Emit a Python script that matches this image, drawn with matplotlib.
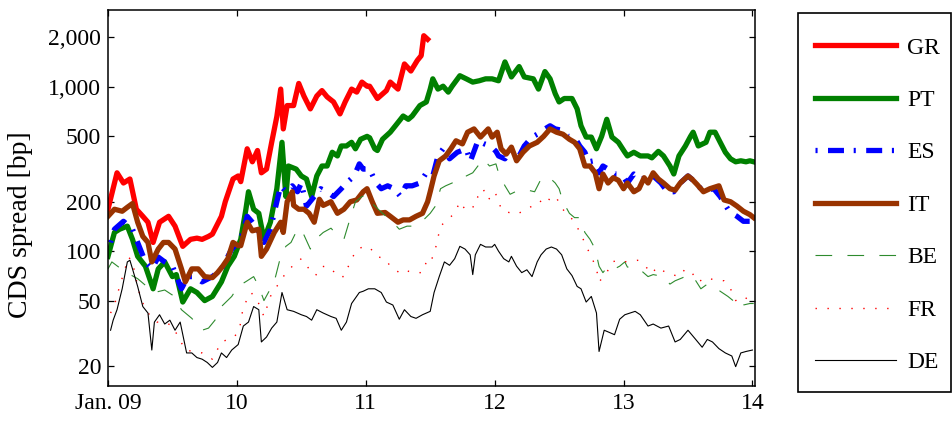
import matplotlib
matplotlib.use("Agg")
import matplotlib.pyplot as plt
from matplotlib.patches import Rectangle
from matplotlib.ticker import FixedLocator, FuncFormatter, NullLocator
import numpy as np

plt.rcParams['font.family'] = ['Liberation Serif', 'DejaVu Serif']
plt.rcParams['lines.scale_dashes'] = False

# 5y sovereign CDS spreads [bp], time in years since Jan 2009
gr_t = [0.00, 0.07, 0.12, 0.17, 0.22, 0.27, 0.31, 0.35, 0.40, 0.47, 0.52, 0.58, 0.64, 0.69, 0.73,
        0.78, 0.81, 0.88, 0.91, 0.97, 1.01, 1.03, 1.08, 1.12, 1.16, 1.19, 1.23, 1.27, 1.31, 1.34,
        1.36, 1.39, 1.44, 1.48, 1.52, 1.57, 1.62, 1.66, 1.70, 1.75, 1.80, 1.84, 1.89, 1.93, 1.97,
        2.01, 2.03, 2.09, 2.16, 2.19, 2.25, 2.30, 2.35, 2.40, 2.43, 2.45, 2.48]
gr_bp = [180, 300, 260, 275, 180, 163, 150, 113, 150, 163, 142, 107, 118, 120, 118,
         123, 127, 163, 200, 275, 287, 265, 420, 350, 410, 300, 316, 460, 660, 970,
         555, 770, 770, 1050, 880, 735, 880, 950, 870, 810, 685, 810, 970, 930, 1070,
         1010, 1010, 850, 950, 1070, 970, 1380, 1250, 1450, 1550, 2050, 1950]

pt_t = [0.00, 0.05, 0.09, 0.15, 0.19, 0.23, 0.29, 0.35, 0.39, 0.44,
        0.50, 0.53, 0.58, 0.64, 0.69, 0.75, 0.81, 0.88, 0.93, 0.98,
        1.03, 1.07, 1.09, 1.13, 1.17, 1.21, 1.26, 1.31, 1.35, 1.38,
        1.40, 1.46, 1.50, 1.54, 1.58, 1.62, 1.66, 1.70, 1.74, 1.78,
        1.81, 1.85, 1.89, 1.92, 1.96, 2.01, 2.03, 2.07, 2.09, 2.13,
        2.19, 2.23, 2.29, 2.33, 2.36, 2.42, 2.47, 2.50, 2.52, 2.56,
        2.60, 2.64, 2.67, 2.73, 2.78, 2.83, 2.88, 2.93, 2.98, 3.03,
        3.08, 3.13, 3.19, 3.23, 3.30, 3.34, 3.39, 3.43, 3.47, 3.50,
        3.54, 3.60, 3.64, 3.67, 3.71, 3.75, 3.79, 3.83, 3.87, 3.91,
        3.96, 4.01, 4.03, 4.08, 4.13, 4.19, 4.22, 4.27, 4.31, 4.36,
        4.39, 4.43, 4.48, 4.52, 4.54, 4.58, 4.64, 4.67, 4.71, 4.75,
        4.79, 4.83, 4.87, 4.91, 4.95, 4.98, 5.01]
pt_bp = [93, 130, 136, 142, 118, 93, 81, 59, 78, 86,
         70, 72, 49, 59, 56, 50, 53, 65, 81, 93,
         118, 180, 230, 180, 170, 118, 150, 240, 460, 215,
         330, 316, 287, 275, 215, 287, 330, 330, 400, 380,
         437, 437, 460, 420, 480, 500, 490, 420, 410, 480,
         530, 580, 665, 635, 665, 770, 810, 970, 1120, 970,
         1010, 930, 1010, 1170, 1120, 1070, 1090, 1120, 1120, 1090,
         1420, 1150, 1330, 1150, 1120, 970, 1240, 1120, 910, 810,
         850, 850, 735, 580, 495, 495, 420, 500, 635, 495,
         460, 400, 380, 400, 380, 380, 370, 405, 380, 330,
         295, 380, 437, 500, 530, 437, 460, 530, 530, 460,
         400, 365, 350, 355, 350, 355, 350]

es_t = [0.02, 0.05, 0.12, 0.19, 0.23, 0.29, 0.34, 0.39, 0.44, 0.50,
        0.57, 0.62, 0.67, 0.73, 0.81, 0.88, 0.96, 1.01, 1.03, 1.08,
        1.12, 1.16, 1.21, 1.26, 1.31, 1.34, 1.38, 1.43, 1.47, 1.50,
        1.54, 1.60, 1.65, 1.70, 1.75, 1.81, 1.85, 1.91, 1.95, 1.98,
        2.03, 2.08, 2.12, 2.17, 2.22, 2.27, 2.31, 2.36, 2.42, 2.47,
        2.52, 2.56, 2.60, 2.65, 2.71, 2.78, 2.81, 2.87, 2.92, 2.97,
        3.01, 3.03, 3.08, 3.13, 3.19, 3.23, 3.29, 3.34, 3.39, 3.43,
        3.47, 3.52, 3.57, 3.62, 3.66, 3.70, 3.73, 3.77, 3.81, 3.84,
        3.88, 3.93, 3.97, 4.01, 4.03, 4.08, 4.13, 4.19, 4.23, 4.29,
        4.34, 4.39, 4.44, 4.50, 4.54, 4.60, 4.65, 4.70, 4.75, 4.81,
        4.84, 4.88, 4.93, 4.98, 5.01]
es_bp = [113, 136, 152, 136, 113, 86, 78, 92, 86, 81,
         59, 70, 70, 65, 70, 78, 103, 113, 118, 163,
         150, 136, 113, 136, 200, 250, 230, 250, 230, 260,
         188, 215, 240, 230, 215, 240, 260, 287, 340, 316,
         316, 260, 240, 250, 240, 215, 250, 250, 260, 300,
         287, 380, 420, 365, 400, 420, 350, 470, 450, 437,
         405, 380, 365, 420, 380, 437, 495, 520, 555, 580,
         555, 545, 500, 495, 437, 400, 350, 355, 300, 330,
         316, 295, 295, 275, 260, 295, 275, 280, 287, 260,
         230, 230, 260, 287, 270, 240, 235, 240, 215, 180,
         170, 163, 152, 152, 150]

it_t = [0.00, 0.05, 0.11, 0.15, 0.19, 0.23, 0.27, 0.31, 0.34, 0.39,
        0.43, 0.47, 0.52, 0.57, 0.60, 0.65, 0.70, 0.75, 0.81, 0.85,
        0.89, 0.93, 0.97, 1.01, 1.03, 1.08, 1.12, 1.17, 1.19, 1.23,
        1.29, 1.34, 1.36, 1.39, 1.43, 1.44, 1.48, 1.52, 1.56, 1.60,
        1.64, 1.67, 1.73, 1.78, 1.83, 1.88, 1.93, 1.98, 2.01, 2.05,
        2.09, 2.15, 2.19, 2.25, 2.29, 2.34, 2.39, 2.44, 2.48, 2.50,
        2.53, 2.57, 2.62, 2.66, 2.70, 2.75, 2.79, 2.84, 2.89, 2.95,
        2.98, 3.02, 3.05, 3.09, 3.13, 3.17, 3.22, 3.27, 3.33, 3.38,
        3.43, 3.48, 3.53, 3.58, 3.62, 3.66, 3.70, 3.74, 3.78, 3.81,
        3.84, 3.88, 3.92, 3.96, 4.00, 4.03, 4.08, 4.12, 4.16, 4.19,
        4.23, 4.27, 4.31, 4.36, 4.40, 4.44, 4.50, 4.53, 4.57, 4.62,
        4.67, 4.74, 4.78, 4.83, 4.88, 4.93, 4.98, 5.01]
it_bp = [163, 180, 175, 185, 195, 150, 123, 113, 86, 103,
         113, 113, 103, 78, 65, 78, 78, 70, 69, 74,
         81, 90, 113, 108, 108, 150, 133, 136, 93, 103,
         130, 150, 130, 200, 230, 190, 180, 180, 170, 150,
         207, 190, 200, 170, 180, 200, 205, 230, 240, 200,
         170, 172, 163, 150, 155, 155, 163, 170, 200, 230,
         287, 355, 380, 420, 470, 450, 530, 555, 495, 555,
         495, 530, 420, 390, 430, 355, 400, 437, 460, 500,
         555, 530, 515, 480, 460, 420, 330, 330, 300, 240,
         295, 260, 280, 270, 240, 260, 230, 240, 280, 260,
         300, 275, 260, 240, 235, 260, 287, 275, 255, 230,
         240, 250, 205, 200, 188, 175, 167, 160]

be_t = [0.00, 0.03, 0.13, 0.23, 0.29, 0.36, 0.44, 0.50, 0.57, 0.65,
        0.73, 0.78, 0.83, 0.88, 0.96, 1.01, 1.08, 1.13, 1.17, 1.21,
        1.26, 1.30, 1.34, 1.38, 1.42, 1.47, 1.50, 1.57, 1.61, 1.67,
        1.73, 1.78, 1.83, 1.87, 1.92, 1.97, 2.01, 2.05, 2.13, 2.21,
        2.26, 2.32, 2.36, 2.43, 2.50, 2.54, 2.58, 2.62, 2.67, 2.73,
        2.78, 2.83, 2.87, 2.91, 2.96, 3.01, 3.03, 3.08, 3.12, 3.16,
        3.21, 3.26, 3.31, 3.36, 3.42, 3.47, 3.50, 3.53, 3.58, 3.62,
        3.66, 3.70, 3.74, 3.78, 3.81, 3.84, 3.88, 3.93, 3.97, 4.01,
        4.03, 4.08, 4.13, 4.19, 4.23, 4.31, 4.36, 4.40, 4.46, 4.50,
        4.54, 4.60, 4.65, 4.70, 4.75, 4.81, 4.85, 4.89, 4.93, 4.98,
        5.01]
be_bp = [78, 86, 75, 68, 62, 56, 58, 54, 44, 39,
         33, 34, 38, 46, 53, 61, 66, 70, 61, 50,
         59, 70, 93, 107, 113, 136, 136, 103, 118, 130,
         138, 125, 118, 150, 200, 215, 220, 195, 170, 150,
         136, 142, 142, 150, 170, 188, 240, 250, 260, 283,
         287, 300, 330, 365, 330, 340, 300, 250, 222, 230,
         235, 235, 230, 275, 283, 260, 240, 200, 170, 160,
         160, 130, 118, 103, 81, 74, 81, 78, 81, 86,
         80, 80, 77, 70, 72, 70, 63, 66, 69, 72,
         70, 59, 63, 61, 57, 53, 50, 45, 47, 48,
         48]

fr_t = [0.02, 0.05, 0.09, 0.16, 0.19, 0.23, 0.26, 0.31, 0.38, 0.44,
        0.50, 0.60, 0.73, 0.81, 0.88, 0.98, 1.02, 1.05, 1.11, 1.16,
        1.21, 1.26, 1.31, 1.36, 1.43, 1.50, 1.56, 1.61, 1.66, 1.73,
        1.78, 1.83, 1.88, 1.93, 1.98, 2.03, 2.08, 2.15, 2.19, 2.26,
        2.30, 2.36, 2.44, 2.47, 2.50, 2.54, 2.58, 2.64, 2.69, 2.73,
        2.77, 2.81, 2.84, 2.87, 2.91, 2.95, 3.00, 3.03, 3.05, 3.11,
        3.17, 3.22, 3.29, 3.34, 3.38, 3.43, 3.48, 3.50, 3.56, 3.60,
        3.64, 3.67, 3.71, 3.75, 3.79, 3.81, 3.87, 3.91, 3.96, 4.00,
        4.11, 4.19, 4.22, 4.26, 4.33, 4.43, 4.48, 4.53, 4.58, 4.64,
        4.70, 4.78, 4.83, 4.87, 4.93, 4.98]
fr_bp = [42, 47, 61, 92, 86, 61, 50, 42, 37, 37,
         35, 25, 24, 22, 28, 30, 33.5, 46, 56, 50,
         40, 53, 61, 70, 81, 90, 78, 71, 81, 79,
         70, 70, 86, 103, 106, 106, 93, 90, 81, 74,
         77, 74, 74, 86, 84, 103, 142, 157, 170, 200,
         180, 190, 185, 215, 240, 205, 230, 205, 180, 172,
         168, 175, 188, 192, 215, 205, 215, 192, 168, 157,
         140, 127, 107, 93, 78, 65, 74, 86, 88, 86,
         88, 78, 73, 80, 74, 70, 78, 74, 65, 69,
         67, 66, 59, 50, 53, 50]

de_t = [0.02, 0.04, 0.07, 0.11, 0.15, 0.17, 0.19, 0.23, 0.27, 0.31,
        0.34, 0.36, 0.40, 0.44, 0.48, 0.52, 0.56, 0.61, 0.65, 0.69,
        0.73, 0.77, 0.81, 0.85, 0.88, 0.92, 0.96, 1.01, 1.05, 1.09,
        1.13, 1.17, 1.19, 1.23, 1.27, 1.31, 1.35, 1.39, 1.44, 1.50,
        1.54, 1.58, 1.62, 1.67, 1.73, 1.77, 1.81, 1.85, 1.89, 1.95,
        1.98, 2.02, 2.07, 2.12, 2.16, 2.21, 2.26, 2.30, 2.35, 2.39,
        2.44, 2.50, 2.53, 2.57, 2.61, 2.65, 2.69, 2.73, 2.77, 2.81,
        2.83, 2.85, 2.89, 2.93, 2.98, 3.00, 3.03, 3.07, 3.11, 3.13,
        3.17, 3.21, 3.25, 3.29, 3.33, 3.36, 3.40, 3.44, 3.48, 3.52,
        3.56, 3.60, 3.64, 3.67, 3.71, 3.75, 3.79, 3.81, 3.85, 3.89,
        3.93, 3.97, 4.01, 4.09, 4.13, 4.19, 4.23, 4.29, 4.35, 4.40,
        4.44, 4.50, 4.56, 4.61, 4.65, 4.69, 4.74, 4.79, 4.84, 4.87,
        4.91, 4.95, 5.00]
de_bp = [33, 38, 44, 59, 86, 88, 78, 61, 46, 42,
         25, 37, 41, 36, 38, 33, 37, 24, 24, 22.5,
         22, 21, 19.6, 21, 24, 22.5, 25, 27, 35, 37,
         46, 44, 28, 30, 34, 37, 56, 44, 43, 41,
         40, 38, 44, 42, 40, 39, 33, 37, 48, 56,
         57, 59, 59, 56, 49, 47, 38.5, 44, 40, 39,
         41, 43, 56, 70, 86, 82, 90, 107, 103, 95,
         72, 95, 110, 106, 106, 110, 100, 90, 86, 93,
         81, 74, 77, 70, 86, 95, 103, 106, 103, 95,
         78, 71, 61, 59, 49, 53, 42, 24.5, 33, 32,
         31, 38.5, 41, 43, 41, 35, 36, 34, 35, 28,
         29, 33, 29, 26, 29, 28, 25.5, 24, 23, 19.8,
         24, 24.5, 25]

year_ticks = [2009, 2010, 2011, 2012, 2013, 2014]
year_labels = ["Jan. 09", "10", "11", "12", "13", "14"]
bp_ticks = [20, 50, 100, 200, 500, 1000, 2000]

W, H = 953, 421
fig = plt.figure(figsize=(W / 100, H / 100), dpi=100)
ax = fig.add_axes([108 / W, 1 - 386 / H, 647 / W, 376 / H])

def yr(t):
    return 2009 + np.array(t)

ax.plot(yr(gr_t), gr_bp, color="#ff0000", lw=3.8, solid_joinstyle="round", label="GR")
ax.plot(yr(pt_t), pt_bp, color="#008000", lw=3.8, solid_joinstyle="round", label="PT")
ax.plot(yr(es_t), es_bp, color="#0000ff", lw=3.8, linestyle=(18.5, (11.5, 7, 1.5, 7.5)), label="ES")
ax.plot(yr(it_t), it_bp, color="#993300", lw=3.8, solid_joinstyle="round", label="IT")
ax.plot(yr(be_t), be_bp, color="#2e8b2e", lw=0.8, linestyle=(0, (12, 11)), label="BE")
ax.plot(yr(fr_t), fr_bp, color="#ff0000", lw=1.0, linestyle=(0, (1, 7.6)), label="FR")
ax.plot(yr(de_t), de_bp, color="black", lw=0.8, label="DE")

ax.set_yscale("log")
ax.set_ylim(15.1, 2940)
ax.set_xlim(2009, 2014.02)
ax.yaxis.set_major_locator(FixedLocator(bp_ticks))
ax.yaxis.set_minor_locator(NullLocator())
ax.yaxis.set_major_formatter(FuncFormatter(lambda v, p: f"{v:,.0f}"))
ax.set_xticks(year_ticks)
ax.set_xticklabels(year_labels)
ax.tick_params(direction="in", length=4.3, width=0.9, labelsize=17,
               top=True, right=True, pad=5)
for s in ax.spines.values():
    s.set_linewidth(1.1)
ax.set_ylabel("CDS spread [bp]", fontsize=20)
ax.yaxis.set_label_coords(-0.116, 0.43)

# legend box drawn separately so it can match the reference frame
fig.patches.append(Rectangle((798 / W, 1 - 392 / H), 153 / W, 379 / H,
                             transform=fig.transFigure, fill=False,
                             edgecolor="black", linewidth=1.2))
leg = fig.legend(loc="upper left", bbox_to_anchor=(815 / W, 1 - 37 / H),
                 fontsize=17, handlelength=3.45, handletextpad=0.45,
                 labelspacing=1.31, borderpad=0, borderaxespad=0,
                 frameon=False)

fig.savefig("out.png", dpi=100)
plt.close(fig)
